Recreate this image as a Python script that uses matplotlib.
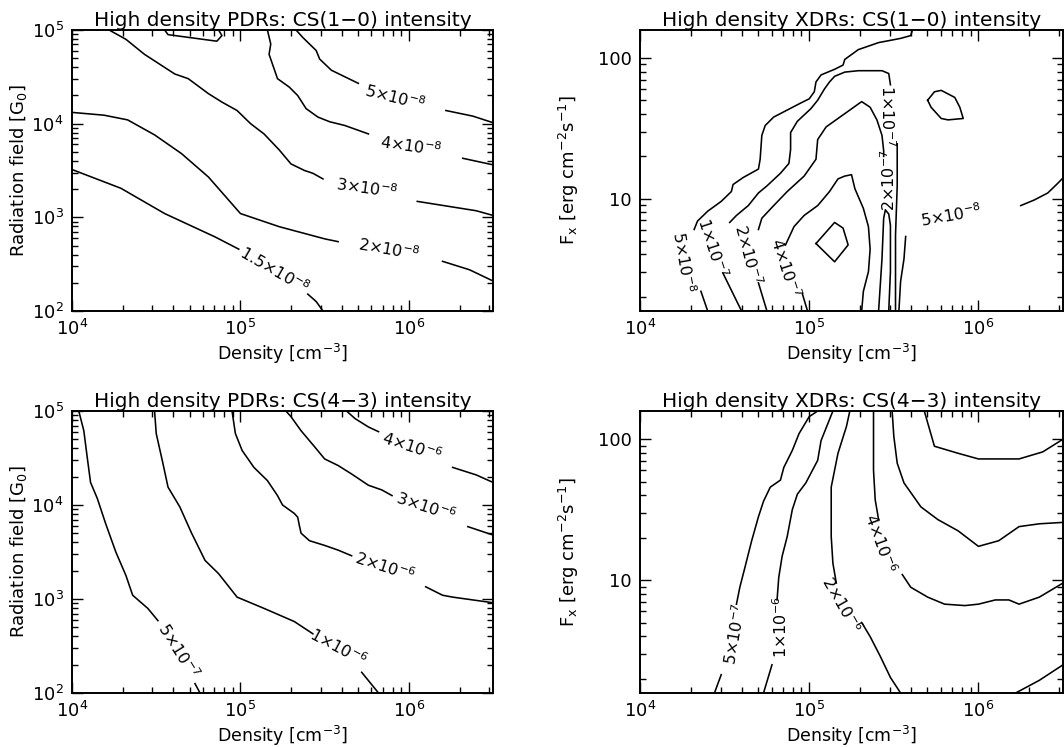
import numpy as np
import matplotlib.pyplot as plt
from matplotlib.ticker import LogLocator, NullFormatter, FuncFormatter

## contour lines, stored as log10 values
## top left: PDR CS(1-0), x = log density, y = log G0
pdr10_15a_n = [4.00, 4.29, 4.55, 4.85, 4.99]
pdr10_15a_g = [3.51, 3.31, 3.04, 2.79, 2.66]
pdr10_15b_n = [5.40, 5.45, 5.49]
pdr10_15b_g = [2.18, 2.10, 2.00]
pdr10_2a_n = [4.00, 4.19, 4.33, 4.49, 4.65, 4.81, 5.00, 5.23, 5.50, 5.58]
pdr10_2a_g = [4.12, 4.09, 4.04, 3.88, 3.68, 3.43, 3.04, 2.90, 2.77, 2.74]
pdr10_2b_n = [6.20, 6.36, 6.50]
pdr10_2b_g = [2.53, 2.44, 2.32]
pdr10_3a_n = [4.22, 4.32, 4.43, 4.61, 4.69, 4.81, 4.89, 4.98, 5.06, 5.14, 5.23, 5.30, 5.38, 5.43, 5.49]
pdr10_3a_g = [5.00, 4.90, 4.74, 4.53, 4.48, 4.32, 4.23, 4.14, 4.00, 3.89, 3.72, 3.57, 3.50, 3.47, 3.41]
pdr10_3b_n = [6.05, 6.26, 6.40, 6.50]
pdr10_3b_g = [3.17, 3.11, 3.07, 3.02]
pdr10_4a_n = [5.16, 5.18, 5.17, 5.22, 5.29, 5.34, 5.39, 5.46, 5.53, 5.62, 5.76]
pdr10_4a_g = [5.00, 4.85, 4.74, 4.48, 4.39, 4.30, 4.16, 4.07, 4.02, 3.98, 3.89]
pdr10_4b_n = [6.32, 6.50]
pdr10_4b_g = [3.63, 3.56]
pdr10_5a_n = [5.33, 5.37, 5.45, 5.47, 5.54, 5.62, 5.70]
pdr10_5a_g = [5.00, 4.92, 4.78, 4.69, 4.57, 4.50, 4.43]
pdr10_5b_n = [6.22, 6.38, 6.50]
pdr10_5b_g = [4.14, 4.08, 4.01]
pdr10_6_n = [4.55, 4.57, 4.86, 4.89, 4.87]
pdr10_6_g = [5.00, 4.95, 4.88, 4.94, 5.00]

## top right: XDR CS(1-0), x = log density, y = log Fx
xdr10_5a_n = [4.32, 4.34, 4.40, 4.48, 4.54, 4.55, 4.61, 4.70, 4.71, 4.72, 4.74, 4.79, 4.87, 4.95,
              5.00, 5.03, 5.04, 5.07, 5.15, 5.20, 5.21, 5.29, 5.41, 5.54, 5.60, 5.61]
xdr10_5a_f = [0.78, 0.84, 0.91, 0.98, 1.05, 1.10, 1.15, 1.21, 1.28, 1.45, 1.52, 1.58, 1.63, 1.68,
              1.71, 1.76, 1.83, 1.88, 1.92, 1.95, 1.99, 2.06, 2.11, 2.14, 2.16, 2.20]
xdr10_5b_n = [4.36, 4.40]
xdr10_5b_f = [0.34, 0.20]
xdr10_5c_n = [5.57, 5.56, 5.54, 5.53]
xdr10_5c_f = [0.73, 0.57, 0.41, 0.20]
xdr10_5d_n = [6.25, 6.33, 6.41, 6.47, 6.51]
xdr10_5d_f = [0.95, 0.99, 1.04, 1.11, 1.16]
xdr10_1a_n = [4.53, 4.57, 4.64, 4.70, 4.75, 4.83, 4.88, 4.89, 4.89, 4.93, 5.01, 5.05, 5.09, 5.12,
              5.15, 5.21, 5.29, 5.43, 5.47, 5.48]
xdr10_1a_f = [0.83, 0.88, 0.95, 1.04, 1.09, 1.18, 1.25, 1.35, 1.47, 1.55, 1.64, 1.70, 1.78, 1.83,
              1.87, 1.90, 1.91, 1.91, 1.89, 1.81]
xdr10_1b_n = [4.49, 4.60]
xdr10_1b_f = [0.47, 0.20]
xdr10_1c_n = [5.52, 5.52, 5.51, 5.51]
xdr10_1c_f = [1.39, 1.09, 0.74, 0.20]
xdr10_2a_n = [4.70, 4.72, 4.79, 4.87, 4.97, 5.04, 5.05, 5.10, 5.17, 5.24, 5.31, 5.36, 5.40, 5.43, 5.44, 5.44]
xdr10_2a_f = [0.78, 0.86, 0.95, 1.05, 1.16, 1.28, 1.42, 1.51, 1.57, 1.63, 1.69, 1.65, 1.56, 1.45, 1.34, 1.30]
xdr10_2b_n = [4.70, 4.75]
xdr10_2b_f = [0.40, 0.20]
xdr10_2c_n = [5.47, 5.48, 5.48, 5.47, 5.45, 5.44, 5.43, 5.41]
xdr10_2c_f = [0.20, 0.48, 0.81, 0.89, 0.92, 0.86, 0.57, 0.20]
xdr10_4a_n = [4.86, 4.91, 4.97, 5.05, 5.12, 5.17, 5.21, 5.25, 5.27, 5.32, 5.35, 5.36, 5.35, 5.32, 5.31]
xdr10_4a_f = [0.67, 0.80, 0.88, 0.95, 1.05, 1.14, 1.16, 1.17, 1.07, 0.93, 0.80, 0.64, 0.48, 0.34, 0.20]
xdr10_4b_n = [4.96, 4.99]
xdr10_4b_f = [0.32, 0.20]
xdr10_diam_n = [5.04, 5.15, 5.20, 5.23, 5.15, 5.04]
xdr10_diam_f = [0.68, 0.83, 0.79, 0.67, 0.55, 0.68]
xdr10_loop_n = [5.70, 5.74, 5.78, 5.86, 5.89, 5.91, 5.82, 5.78, 5.72, 5.70]
xdr10_loop_f = [1.70, 1.76, 1.77, 1.72, 1.65, 1.57, 1.56, 1.57, 1.65, 1.70]

## bottom left: PDR CS(4-3)
pdr43_05a_n = [4.04, 4.07, 4.09, 4.11, 4.15, 4.20, 4.26, 4.32, 4.36, 4.45, 4.51]
pdr43_05a_g = [5.00, 4.79, 4.51, 4.24, 4.07, 3.80, 3.50, 3.25, 3.04, 2.90, 2.77]
pdr43_05b_n = [4.73, 4.76]
pdr43_05b_g = [2.10, 2.00]
pdr43_1a_n = [4.49, 4.50, 4.54, 4.57, 4.64, 4.71, 4.79, 4.87, 4.98, 5.14, 5.32, 5.43]
pdr43_1a_g = [5.00, 4.76, 4.44, 4.19, 3.98, 3.70, 3.41, 3.27, 3.02, 2.90, 2.76, 2.63]
pdr43_1b_n = [5.72, 5.82]
pdr43_1b_g = [2.22, 2.00]
pdr43_2a_n = [4.95, 4.97, 5.01, 5.08, 5.16, 5.22, 5.25, 5.32, 5.34, 5.35, 5.36, 5.41, 5.50, 5.58, 5.66]
pdr43_2a_g = [5.00, 4.76, 4.58, 4.40, 4.26, 4.10, 4.00, 3.91, 3.87, 3.78, 3.70, 3.62, 3.57, 3.52, 3.46]
pdr43_2b_n = [6.10, 6.20, 6.26, 6.50]
pdr43_2b_g = [3.13, 3.04, 3.02, 2.96]
pdr43_3a_n = [5.27, 5.30, 5.36, 5.44, 5.50, 5.58, 5.66, 5.76, 5.84, 5.90]
pdr43_3a_g = [5.00, 4.94, 4.79, 4.62, 4.49, 4.42, 4.33, 4.21, 4.16, 4.10]
pdr43_3b_n = [6.35, 6.50]
pdr43_3b_g = [3.77, 3.68]
pdr43_4a_n = [5.63, 5.68, 5.76, 5.82]
pdr43_4a_g = [5.00, 4.92, 4.83, 4.78]
pdr43_4b_n = [6.26, 6.40, 6.50]
pdr43_4b_g = [4.40, 4.32, 4.24]

## bottom right: XDR CS(4-3)
xdr43_05a_n = [5.05, 5.00, 4.97, 4.94, 4.90, 4.85, 4.83, 4.77, 4.75, 4.73, 4.70, 4.66, 4.62, 4.59, 4.57]
xdr43_05a_f = [2.20, 2.16, 2.10, 2.04, 1.92, 1.80, 1.71, 1.66, 1.61, 1.56, 1.45, 1.28, 1.09, 0.95, 0.83]
xdr43_05b_n = [4.48, 4.44]
xdr43_05b_f = [0.33, 0.20]
xdr43_1a_n = [5.14, 5.10, 5.07, 5.05, 4.98, 4.93, 4.90, 4.87, 4.84, 4.82, 4.81]
xdr43_1a_f = [2.20, 2.08, 1.99, 1.85, 1.69, 1.61, 1.50, 1.31, 1.17, 1.02, 0.86]
xdr43_1b_n = [4.78, 4.73]
xdr43_1b_f = [0.40, 0.20]
xdr43_2a_n = [5.24, 5.22, 5.17, 5.15, 5.13, 5.13, 5.13, 5.14, 5.16]
xdr43_2a_f = [2.20, 2.09, 1.90, 1.78, 1.66, 1.50, 1.31, 1.12, 0.98]
xdr43_2b_n = [5.31, 5.36, 5.42, 5.48, 5.54]
xdr43_2b_f = [0.70, 0.60, 0.46, 0.31, 0.20]
xdr43_4a_n = [5.38, 5.38, 5.38, 5.39, 5.41]
xdr43_4a_f = [2.20, 2.02, 1.78, 1.57, 1.43]
xdr43_4b_n = [5.55, 5.60, 5.70, 5.80, 5.92, 6.00, 6.10, 6.18, 6.24, 6.36, 6.50]
xdr43_4b_f = [1.04, 0.95, 0.88, 0.83, 0.82, 0.83, 0.86, 0.86, 0.83, 0.88, 0.98]
xdr43_6_n = [5.49, 5.50, 5.52, 5.56, 5.66, 5.76, 5.88, 6.00, 6.12, 6.24, 6.36, 6.50]
xdr43_6_f = [2.20, 2.02, 1.83, 1.69, 1.52, 1.43, 1.35, 1.24, 1.28, 1.38, 1.40, 1.41]
xdr43_8_n = [5.68, 5.74, 5.88, 6.00, 6.24, 6.38, 6.50]
xdr43_8_f = [2.20, 1.95, 1.90, 1.86, 1.86, 1.91, 2.00]
xdr43_9_n = [6.22, 6.36, 6.50]
xdr43_9_f = [0.20, 0.29, 0.40]


def lab(mant, exp):
    return mant + '×10$^{' + exp + '}$'


fig = plt.figure(figsize=(10.64, 7.47), dpi=100)
ax_tl = fig.add_axes([0.0677, 0.5837, 0.3957, 0.3762])
ax_tr = fig.add_axes([0.6015, 0.5837, 0.3976, 0.3762])
ax_bl = fig.add_axes([0.0677, 0.0723, 0.3957, 0.3775])
ax_br = fig.add_axes([0.6015, 0.0723, 0.3976, 0.3775])


def setup(ax, title, xdr):
    ax.set_xscale('log')
    ax.set_yscale('log')
    ax.set_xlim(1e4, 10 ** 6.5)
    if xdr:
        ax.set_ylim(10 ** 0.2, 10 ** 2.2)
        ax.yaxis.set_major_formatter(FuncFormatter(lambda v, p: f'{v:g}'))
        ax.set_ylabel('F$_{\\rm x}$ [erg cm$^{-2}$s$^{-1}$]', fontsize=13, labelpad=12)
    else:
        ax.set_ylim(1e2, 1e5)
        ax.set_ylabel('Radiation field [G$_0$]', fontsize=13, labelpad=2)
    ax.yaxis.set_minor_locator(LogLocator(base=10, subs=np.arange(2, 10)))
    ax.yaxis.set_minor_formatter(NullFormatter())
    ax.xaxis.set_minor_formatter(NullFormatter())
    ax.set_xlabel('Density [cm$^{-3}$]', fontsize=12.5, labelpad=2)
    ax.set_title(title, fontsize=14.5, pad=3)
    ax.tick_params(which='both', direction='in', top=True, right=True, labelsize=13, width=1)
    ax.tick_params(which='major', length=8, pad=6)
    ax.tick_params(which='minor', length=4.5)
    for s in ax.spines.values():
        s.set_linewidth(1.4)


def line(ax, n, y):
    ax.plot(10 ** np.array(n), 10 ** np.array(y), color='black', lw=1.15)


def text(ax, n, y, s, rot):
    ax.text(10 ** n, 10 ** y, s, rotation=rot, ha='center', va='center',
            rotation_mode='anchor', fontsize=11.5)


setup(ax_tl, 'High density PDRs: CS(1−0) intensity', False)
setup(ax_tr, 'High density XDRs: CS(1−0) intensity', True)
setup(ax_bl, 'High density PDRs: CS(4−3) intensity', False)
setup(ax_br, 'High density XDRs: CS(4−3) intensity', True)

# top left
for n, g in [(pdr10_15a_n, pdr10_15a_g), (pdr10_15b_n, pdr10_15b_g),
             (pdr10_2a_n, pdr10_2a_g), (pdr10_2b_n, pdr10_2b_g),
             (pdr10_3a_n, pdr10_3a_g), (pdr10_3b_n, pdr10_3b_g),
             (pdr10_4a_n, pdr10_4a_g), (pdr10_4b_n, pdr10_4b_g),
             (pdr10_5a_n, pdr10_5a_g), (pdr10_5b_n, pdr10_5b_g),
             (pdr10_6_n, pdr10_6_g)]:
    line(ax_tl, n, g)
text(ax_tl, 5.92, 4.28, lab('5', '-8'), -14)
text(ax_tl, 6.01, 3.76, lab('4', '-8'), -8)
text(ax_tl, 5.75, 3.31, lab('3', '-8'), -8)
text(ax_tl, 5.88, 2.66, lab('2', '-8'), -10)
text(ax_tl, 5.20, 2.44, lab('1.5', '-8'), -30)

# top right
for n, f in [(xdr10_5a_n, xdr10_5a_f), (xdr10_5b_n, xdr10_5b_f),
             (xdr10_5c_n, xdr10_5c_f), (xdr10_5d_n, xdr10_5d_f),
             (xdr10_1a_n, xdr10_1a_f), (xdr10_1b_n, xdr10_1b_f), (xdr10_1c_n, xdr10_1c_f),
             (xdr10_2a_n, xdr10_2a_f), (xdr10_2b_n, xdr10_2b_f), (xdr10_2c_n, xdr10_2c_f),
             (xdr10_4a_n, xdr10_4a_f), (xdr10_4b_n, xdr10_4b_f),
             (xdr10_diam_n, xdr10_diam_f), (xdr10_loop_n, xdr10_loop_f)]:
    line(ax_tr, n, f)
text(ax_tr, 4.26, 0.55, lab('5', '-8'), -80)
text(ax_tr, 4.43, 0.65, lab('1', '-7'), -72)
text(ax_tr, 4.64, 0.60, lab('2', '-7'), -75)
text(ax_tr, 4.86, 0.51, lab('4', '-7'), -72)
text(ax_tr, 5.46, 1.59, lab('1', '-7'), -90)
text(ax_tr, 5.47, 1.13, lab('2', '-7'), 90)
text(ax_tr, 5.84, 0.88, lab('5', '-8'), 10)

# bottom left
for n, g in [(pdr43_05a_n, pdr43_05a_g), (pdr43_05b_n, pdr43_05b_g),
             (pdr43_1a_n, pdr43_1a_g), (pdr43_1b_n, pdr43_1b_g),
             (pdr43_2a_n, pdr43_2a_g), (pdr43_2b_n, pdr43_2b_g),
             (pdr43_3a_n, pdr43_3a_g), (pdr43_3b_n, pdr43_3b_g),
             (pdr43_4a_n, pdr43_4a_g), (pdr43_4b_n, pdr43_4b_g)]:
    line(ax_bl, n, g)
text(ax_bl, 4.63, 2.45, lab('5', '-7'), -58)
text(ax_bl, 5.58, 2.49, lab('1', '-6'), -28)
text(ax_bl, 5.86, 3.34, lab('2', '-6'), -18)
text(ax_bl, 6.10, 3.98, lab('3', '-6'), -18)
text(ax_bl, 6.02, 4.62, lab('4', '-6'), -18)

# bottom right
for n, f in [(xdr43_05a_n, xdr43_05a_f), (xdr43_05b_n, xdr43_05b_f),
             (xdr43_1a_n, xdr43_1a_f), (xdr43_1b_n, xdr43_1b_f),
             (xdr43_2a_n, xdr43_2a_f), (xdr43_2b_n, xdr43_2b_f),
             (xdr43_4a_n, xdr43_4a_f), (xdr43_4b_n, xdr43_4b_f),
             (xdr43_6_n, xdr43_6_f), (xdr43_8_n, xdr43_8_f), (xdr43_9_n, xdr43_9_f)]:
    line(ax_br, n, f)
text(ax_br, 4.56, 0.62, lab('5', '-7'), 80)
text(ax_br, 4.83, 0.67, lab('1', '-6'), 90)
text(ax_br, 5.19, 0.83, lab('2', '-6'), -60)
text(ax_br, 5.42, 1.26, lab('4', '-6'), -70)

fig.savefig('out.png', dpi=100)
